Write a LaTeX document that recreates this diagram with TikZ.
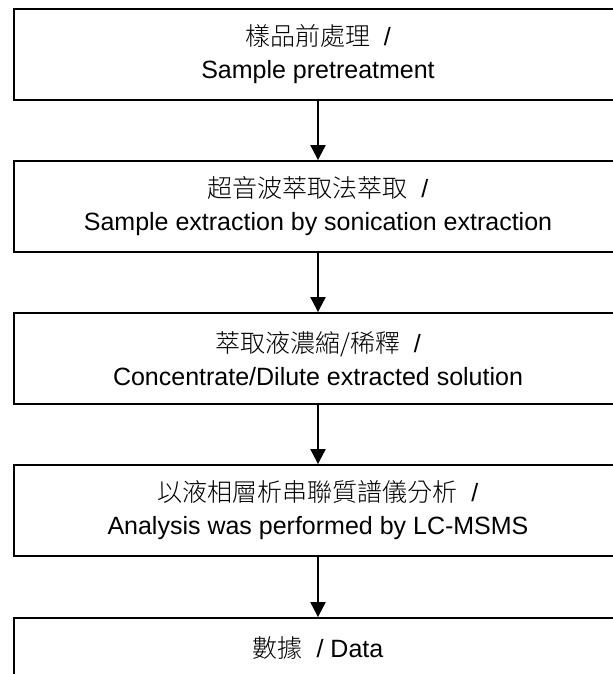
\documentclass[tikz,border=0pt]{standalone}
\usepackage{fontspec}
\setmainfont{Liberation Sans}
\newfontfamily\cjk{Noto Sans CJK TC}[UprightFont={* Light}]
\usetikzlibrary{arrows.meta}

\begin{document}
\begin{tikzpicture}[x=0.5pt, y=-0.5pt,
                stage/.style={draw, rectangle, line width=0.9pt, minimum width=304pt, minimum height=45.5pt, inner sep=0pt, align=center, font=\fontsize{12.5}{16.5}\selectfont},
                flow/.style={-{Triangle[width=7.5pt, length=7.5pt]}, line width=1pt}]
                \useasboundingbox (0,0) rectangle (613,674);
                \clip (0,0) rectangle (613,674);
                \node[stage] (pretreat) at (318,54.5) {{\cjk 樣品前處理} \ /\\Sample pretreatment};
                \node[stage] (extract) at (318,206.5) {{\cjk 超音波萃取法萃取} \ /\\Sample extraction by sonication extraction};
                \node[stage] (concentrate) at (318,358.5) {{\cjk 萃取液濃縮/稀釋} \ /\\Concentrate/Dilute extracted solution};
                \node[stage] (analysis) at (318,510.5) {{\cjk 以液相層析串聯質譜儀分析} \ /\\Analysis was performed by LC-MSMS};
                \node[stage, minimum height=30pt] (data) at (318,648) {{\cjk 數據} \ / Data};
                \draw[flow] (pretreat) -- (extract);
                \draw[flow] (extract) -- (concentrate);
                \draw[flow] (concentrate) -- (analysis);
                \draw[flow] (analysis) -- (data);
            \end{tikzpicture}
\end{document}
